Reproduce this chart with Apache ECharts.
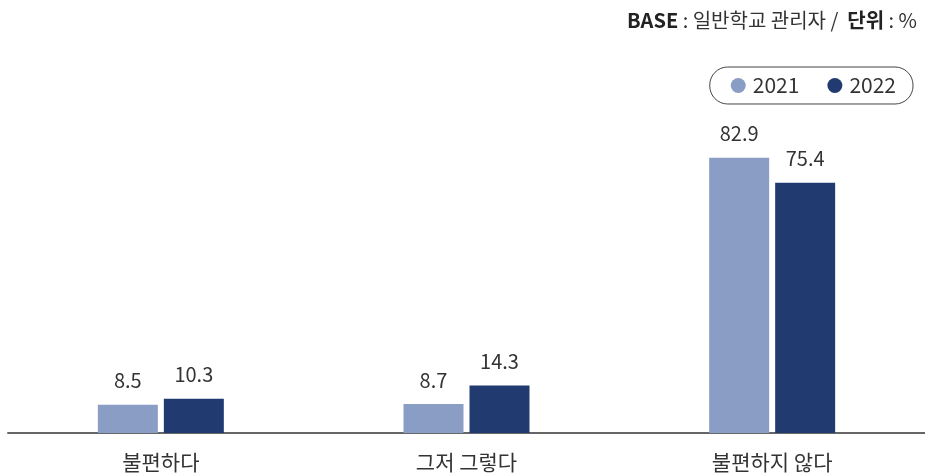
<!DOCTYPE html>
<html><head><meta charset="utf-8">
<script src="https://cdn.jsdelivr.net/npm/echarts@6/dist/echarts.min.js"></script>
<style>html,body{margin:0;padding:0;background:#fff}#c{width:925px;height:475px}</style>
</head><body><div id="c"></div>
<script>
const categories = ['불편하다', '그저 그렇다', '불편하지 않다'];
const values2021 = [8.5, 8.7, 82.9];
const values2022 = [10.3, 14.3, 75.4];
const seriesNames = ['2021', '2022'];

const FONT = '"Noto Sans CJK KR", "Noto Sans", sans-serif';
const chart = echarts.init(document.getElementById('c'));
const labelStyle = {show: true, position: 'top', distance: 14, fontSize: 20, color: '#333', fontFamily: FONT};
chart.setOption({
  animation: false,
  textStyle: {fontFamily: FONT},
  title: {
    right: 3, top: 5,
    text: '{b|BASE} : 일반학교 관리자 /  {b|단위} : %',
    textStyle: {
      fontSize: 20, fontWeight: 'normal', color: '#333', fontFamily: FONT,
      rich: {b: {fontSize: 20, fontWeight: 'bold', color: '#222', fontFamily: FONT}}
    }
  },
  legend: {
    right: 12, top: 67,
    itemWidth: 15, itemHeight: 15, itemGap: 28,
    icon: 'circle',
    borderColor: '#444', borderWidth: 1, borderRadius: 18,
    padding: [8, 17, 8, 21],
    textStyle: {fontSize: 21, color: '#333', fontFamily: FONT, padding: [0, 0, 0, 2]},
    data: seriesNames
  },
  grid: {left: 8, width: 917, top: 101, bottom: 42},
  xAxis: {
    type: 'category', data: categories,
    axisLine: {lineStyle: {color: '#666', width: 2}},
    axisTick: {show: false},
    axisLabel: {fontSize: 21, color: '#333', margin: 19, fontFamily: FONT}
  },
  yAxis: {type: 'value', min: 0, max: 100, show: false, splitLine: {show: false}},
  series: [
    {name: seriesNames[0], type: 'bar', data: values2021, barWidth: 60, barGap: '10%',
     itemStyle: {color: '#8a9dc4'}, label: labelStyle},
    {name: seriesNames[1], type: 'bar', data: values2022, barWidth: 60,
     itemStyle: {color: '#213b70'}, label: labelStyle}
  ]
});
</script></body></html>
